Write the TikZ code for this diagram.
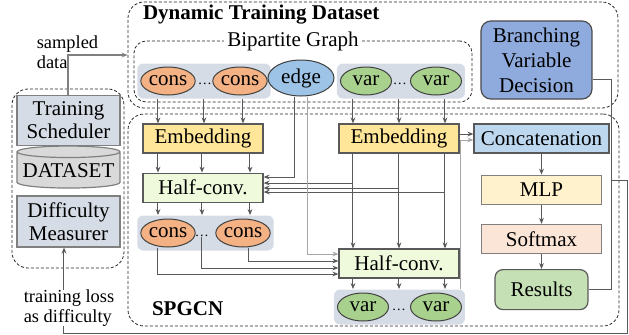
\documentclass[tikz,border=0pt]{standalone}
\usepackage{fontspec}
\setmainfont{Liberation Serif}
\usetikzlibrary{shapes.geometric, arrows.meta, positioning, fit, backgrounds, calc}

\definecolor{ConsOrange}{HTML}{F4B183}
\definecolor{EdgeBlue}{HTML}{9DC3E6}
\definecolor{VarGreen}{HTML}{A9D18E}
\definecolor{GroupGray}{HTML}{D6DCE5}
\definecolor{EmbYellow}{HTML}{FFE699}
\definecolor{ConvGreen}{HTML}{EFF9DC}
\definecolor{CatBlue}{HTML}{BDD7EE}
\definecolor{MLPYellow}{HTML}{FFF2CC}
\definecolor{SoftPink}{HTML}{FBE5D6}
\definecolor{ResGreen}{HTML}{C5E0B4}
\definecolor{BVDBlue}{HTML}{8FAADC}
\definecolor{DataGray}{HTML}{D9D9D9}
\definecolor{LineDark}{HTML}{595959}
\definecolor{LineLight}{HTML}{A6A6A6}

\begin{document}
\begin{tikzpicture}[
    x=0.5pt, y=-0.5pt,
    font=\fontsize{10.5}{12}\selectfont,
    node distance=10pt,
    block/.style={rectangle, draw=LineDark, line width=0.6pt,
                  minimum width=60pt, minimum height=14.5pt, inner sep=1pt},
    embbox/.style={block, fill=EmbYellow},
    convbox/.style={block, fill=ConvGreen},
    sidebox/.style={block, draw=gray, fill=GroupGray, minimum width=51.5pt,
                    minimum height=25pt, align=center, font=\fontsize{10.5}{11.5}\selectfont},
    oval/.style={ellipse, draw=black!75, line width=0.5pt, inner sep=0pt,
                 minimum width=25.5pt, minimum height=14pt},
    consnode/.style={oval, fill=ConsOrange},
    varnode/.style={oval, fill=VarGreen},
    dotsnode/.style={inner sep=0pt, font=\fontsize{7}{8}\selectfont},
    group/.style={fill=GroupGray, rounded corners=3pt, inner sep=1.5pt},
    container/.style={draw=black!85, dash pattern=on 1.5pt off 1pt, line width=0.4pt, rounded corners=8pt},
    heading/.style={font=\fontsize{10.5}{12}\selectfont\bfseries, anchor=west},
    link/.style={draw=LineDark, line width=0.5pt},
    arrow/.style={link, -{Stealth[length=3pt, width=2.4pt]}},
    arrowg/.style={arrow, draw=LineLight},
    note/.style={align=left, font=\fontsize{9.2}{10}\selectfont, inner sep=0pt}
]
\useasboundingbox (0,0) rectangle (629,334);

% Frames
\node[container, minimum width=245pt, minimum height=53pt] (dtd) at (373,55) {};
\node[container, minimum width=245.5pt, minimum height=106pt] (spgcn) at (373.5,220) {};
\node[container, minimum width=56pt, minimum height=89.5pt] (sidefr) at (68,178.5) {};
\node[container, rounded corners=6pt, minimum width=169pt, minimum height=30.5pt] (bip) at (303,71.5) {};

\node[heading] (dtdtitle) at (136,15) {Dynamic Training Dataset};
\node[fill=white, inner sep=1.5pt] (biptitle) at (293,41) {Bipartite Graph};
\node[heading] (spgcntitle) at (145,309) {SPGCN};

% Bipartite graph
\node[consnode] (cons1) at (168,81) {cons};
\node[dotsnode] (cdots1) at (205,84) {\dots};
\node[consnode] (cons2) at (240,81) {cons};
\node[oval, fill=EdgeBlue, minimum width=33pt, minimum height=18pt] (edge) at (301,78) {edge};
\node[varnode] (var1) at (366,81) {var};
\node[dotsnode] (vdots1) at (400,84) {\dots};
\node[varnode] (var2) at (436,81) {var};

\node[rectangle, rounded corners=5pt, draw=black!70, fill=BVDBlue, line width=0.6pt,
      minimum width=55.5pt, minimum height=38pt, align=center,
      font=\fontsize{10.5}{12.5}\selectfont] (bvd) at (536.5,60) {Branching\\Variable\\Decision};

% SPGCN
\node[embbox] (cemb) at (203,138.5) {Embedding};
\node[convbox, below=9.5pt of cemb] (hc1) {Half-conv.};
\node[consnode] (ccons1) at (168,233) {cons};
\node[dotsnode] (cdots2) at (202,236) {\dots};
\node[consnode] (ccons2) at (243,233) {cons};

\node[embbox] (vemb) at (399,138.5) {Embedding};
\node[convbox] (hc2) at (399,263.5) {Half-conv.};
\node[varnode] (vvar1) at (363,307) {var};
\node[dotsnode] (vdots2) at (399,310) {\dots};
\node[varnode] (vvar2) at (436,307) {var};

\node[block, fill=CatBlue, minimum width=67.5pt] (cat) at (541.5,138.5) {Concatenation};
\node[block, draw=gray, fill=MLPYellow, below=10.5pt of cat] (mlp) {MLP};
\node[block, draw=gray, fill=SoftPink, below=9.5pt of mlp] (sm) {Softmax};
\node[rectangle, rounded corners=4pt, draw=LineDark, line width=0.6pt, fill=ResGreen,
      minimum width=46.5pt, minimum height=20pt, below=7.5pt of sm] (res) {Results};

% Curriculum side
\node[sidebox] (sched) at (68.5,120.5) {Training\\Scheduler};
\node[shape=cylinder, shape border rotate=90, aspect=0.12, draw=gray, line width=0.6pt,
      fill=DataGray, minimum width=51.5pt, minimum height=21pt, inner sep=1pt] (ds) at (68.5,171) {DATASET};
\node[sidebox, minimum height=25.5pt] (diff) at (68.5,221.5) {Difficulty\\Measurer};

\node[note] (smp) at (67.5,52) {sampled\\data};

% Node groups
\begin{scope}[on background layer]
\node[group, fit=(cons1)(cons2)] (cgrp1) {};
\node[group, fit=(var1)(var2)] (vgrp1) {};
\node[group, fit=(ccons1)(ccons2)] (cgrp2) {};
\node[group, fit=(vvar1)(vvar2)] (vgrp2) {};
\end{scope}

% Constraint side
\foreach \x in {158,204,243}
  \draw[arrow] (\x,0 |- cgrp1.south) -- (\x,0 |- cemb.north);
\foreach \x in {158,202,250} {
  \draw[arrow] (\x,0 |- cemb.south) -- (\x,0 |- hc1.north);
  \draw[arrow] (\x,0 |- hc1.south) -- (\x,0 |- cgrp2.north);
}

% Variable side
\foreach \x in {353,399,445} {
  \draw[arrow] (\x,0 |- vgrp1.south) -- (\x,0 |- vemb.north);
  \draw[arrow] (\x,0 |- vemb.south) -- (\x,0 |- hc2.north);
  \draw[arrow] (\x,0 |- hc2.south) -- (\x,0 |- vgrp2.north);
}
\foreach \x/\y in {353/183,399/188,445/192}
  \draw[arrow] (\x,0 |- vemb.south) |- (hc1.east |- 0,\y);

% Edge features and updated constraints
\draw[arrow] (295,0 |- edge.south) |- (hc1.east |- 0,177);
\draw[arrowg] (308,0 |- edge.south) |- (hc2.west |- 0,254);
\draw[arrow] (249,0 |- ccons2.south) |- (hc2.west |- 0,261);
\draw[arrow] (202,0 |- cdots2.south) |- (hc2.west |- 0,268);
\draw[arrow] (158,0 |- ccons1.south) |- (hc2.west |- 0,274);

% Output head
\draw[arrow] (vemb.east |- 0,134) -- (cat.west |- 0,134);
\draw[arrowg] (461,0 |- vgrp2.north) |- (cat.west |- 0,140);
\draw[arrow] (cat) -- (mlp);
\draw[arrow] (mlp) -- (sm);
\draw[arrow] (sm) -- (res);
\draw[link] (res.east) -| (612,79) -- (bvd.east |- 0,79);

% Loss feedback and sampling
\coordinate (tap) at (612,180);
\draw[arrow] (tap) -- (628,180) -- (628,333) -| (64,0 |- diff.south);
\draw[arrow, draw=gray, line width=0.7pt] (68,0 |- sched.north) |- (dtd.west);

\node[note, fill=white] (loss) at (69,308) {training loss\\as difficulty};

\end{tikzpicture}
\end{document}
